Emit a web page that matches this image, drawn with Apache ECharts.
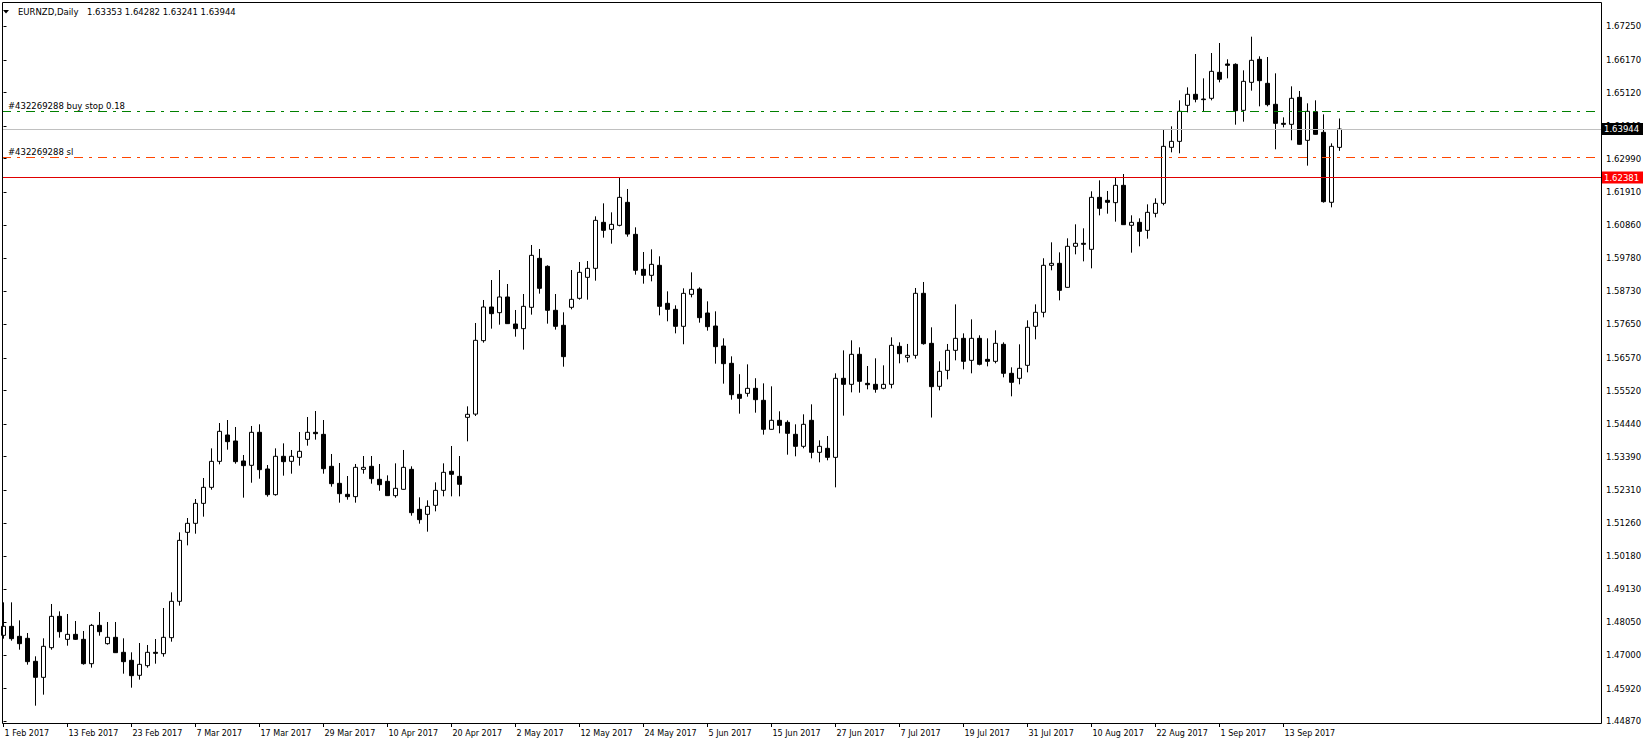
<!DOCTYPE html>
<html><head><meta charset="utf-8">
<script src="https://cdn.jsdelivr.net/npm/echarts@6/dist/echarts.min.js"></script>
<style>html,body{margin:0;padding:0;background:#fff}#c{width:1643px;height:743px}</style>
</head><body><div id="c"></div>
<script>
// Trading days (weekdays) from 1 Feb 2017
const monthDays = [
 ['Feb',[1,2,3,6,7,8,9,10,13,14,15,16,17,20,21,22,23,24,27,28]],
 ['Mar',[1,2,3,6,7,8,9,10,13,14,15,16,17,20,21,22,23,24,27,28,29,30,31]],
 ['Apr',[3,4,5,6,7,10,11,12,13,14,17,18,19,20,21,24,25,26,27,28]],
 ['May',[1,2,3,4,5,8,9,10,11,12,15,16,17,18,19,22,23,24,25,26,29,30,31]],
 ['Jun',[1,2,5,6,7,8,9,12,13,14,15,16,19,20,21,22,23,26,27,28,29,30]],
 ['Jul',[3,4,5,6,7,10,11,12,13,14,17,18,19,20,21,24,25,26,27,28,31]],
 ['Aug',[1,2,3,4,7,8,9,10,11,14,15,16,17,18,21,22,23,24,25,28,29,30,31]],
 ['Sep',[1,4,5,6,7,8,11,12,13,14,15,18,19,20,21,22]]
];
const categories = [];
monthDays.forEach(([m, days]) => days.forEach(d => categories.push(d + ' ' + m + ' 2017')));

const open = [
1.47633,1.47923,1.47601,1.47537,1.46796,1.46280,1.47236,1.48245,1.47504,1.47665,
1.47504,1.46720,1.47955,1.47365,1.47569,1.47086,1.46828,1.46345,1.46656,1.47086,
1.47043,1.47558,1.48729,1.50951,1.51241,1.51885,1.52401,1.53238,1.54087,1.53894,
1.53250,1.53110,1.54173,1.52992,1.52165,1.53400,1.53239,1.53368,1.53947,1.54173,
1.54108,1.53078,1.52530,1.52176,1.52101,1.52981,1.53078,1.52659,1.52594,1.52133,
1.52337,1.52981,1.51692,1.51531,1.51821,1.52304,1.52917,1.52755,1.54656,1.54760,
1.57126,1.58210,1.58028,1.58533,1.57663,1.57513,1.58200,1.59778,1.59521,1.58104,
1.57620,1.58200,1.58490,1.59166,1.59456,1.60938,1.60712,1.60841,1.61582,1.60551,
1.59424,1.59231,1.59553,1.58329,1.58135,1.57588,1.58619,1.58790,1.58017,1.57598,
1.56954,1.56396,1.55397,1.55429,1.55590,1.55204,1.54270,1.54560,1.54495,1.54109,
1.53722,1.54560,1.53529,1.53658,1.53367,1.55913,1.55719,1.56686,1.55751,1.55719,
1.55590,1.55719,1.56943,1.56589,1.56653,1.58651,1.57040,1.55655,1.56170,1.56815,
1.57201,1.56492,1.57201,1.56524,1.56460,1.57008,1.56074,1.55913,1.56331,1.57588,
1.58039,1.59553,1.59617,1.58844,1.60165,1.60262,1.60068,1.61743,1.61647,1.61572,
1.62130,1.60842,1.60938,1.60680,1.61228,1.61550,1.63354,1.63547,1.64707,1.65062,
1.64911,1.64933,1.65770,1.66039,1.66028,1.64546,1.65448,1.66189,1.65416,1.64740,
1.64127,1.64095,1.64965,1.63580,1.64503,1.63837,1.61583,1.63353];
const high = [
1.48696,1.48696,1.48116,1.47708,1.46957,1.47537,1.48643,1.48406,1.48320,1.48095,
1.47773,1.48000,1.48385,1.48063,1.48063,1.47537,1.47086,1.47386,1.47322,1.47515,
1.48514,1.49018,1.50951,1.51413,1.52025,1.52702,1.53657,1.54473,1.54570,1.54345,
1.53443,1.54377,1.54431,1.53120,1.53657,1.53818,1.53604,1.54184,1.54667,1.54860,
1.54570,1.53475,1.53185,1.52766,1.53153,1.53410,1.53410,1.53153,1.52787,1.53174,
1.53604,1.53078,1.52079,1.51982,1.52562,1.53174,1.53733,1.53410,1.55010,1.57695,
1.58436,1.59080,1.59402,1.58951,1.58114,1.58629,1.60208,1.60079,1.59553,1.58629,
1.58039,1.59402,1.59660,1.59692,1.61131,1.61550,1.61260,1.62381,1.62012,1.60777,
1.59982,1.60068,1.59843,1.58715,1.58264,1.58812,1.59327,1.58844,1.58393,1.58071,
1.57201,1.56621,1.56045,1.56363,1.55916,1.55751,1.55655,1.54850,1.54560,1.54431,
1.54753,1.55075,1.53915,1.54055,1.56074,1.56814,1.57137,1.56911,1.56310,1.56557,
1.56331,1.57233,1.57072,1.57020,1.58823,1.59016,1.57556,1.56460,1.57019,1.58296,
1.57362,1.57813,1.57298,1.57201,1.57459,1.57072,1.56267,1.57008,1.57781,1.58296,
1.59780,1.60294,1.59971,1.60423,1.60874,1.60745,1.61937,1.62291,1.61948,1.62366,
1.62495,1.61164,1.61067,1.61518,1.61711,1.63934,1.64031,1.64868,1.65287,1.66361,
1.65577,1.66393,1.66715,1.66190,1.66060,1.65835,1.66919,1.66286,1.66264,1.65738,
1.64320,1.65319,1.65169,1.64772,1.64868,1.64417,1.63483,1.64282];
const low = [
1.47526,1.47461,1.47171,1.46688,1.45367,1.45722,1.47171,1.47558,1.47300,1.47483,
1.46688,1.46592,1.47622,1.47333,1.47064,1.46398,1.45947,1.46205,1.46592,1.46720,
1.46946,1.47429,1.48589,1.50532,1.50908,1.51456,1.52326,1.53142,1.53614,1.53163,
1.52068,1.52550,1.52680,1.52101,1.52133,1.52777,1.52841,1.53099,1.53743,1.53937,
1.52841,1.52422,1.51907,1.52004,1.51907,1.52841,1.52519,1.52290,1.52122,1.52068,
1.52326,1.51488,1.51231,1.50973,1.51628,1.52111,1.52111,1.52111,1.53883,1.54700,
1.57062,1.57513,1.57641,1.57663,1.57255,1.56836,1.57964,1.58640,1.57674,1.57481,
1.56288,1.58135,1.58447,1.58447,1.59059,1.60444,1.60251,1.60809,1.60476,1.59252,
1.58962,1.59037,1.57942,1.57749,1.57362,1.57010,1.58522,1.57706,1.57448,1.56385,
1.55741,1.55225,1.54774,1.55322,1.54806,1.54098,1.54259,1.54141,1.53453,1.53400,
1.53658,1.53335,1.53207,1.53271,1.52401,1.54711,1.55461,1.55450,1.55558,1.55450,
1.55558,1.55590,1.56396,1.56428,1.56546,1.56997,1.54650,1.55526,1.55881,1.56492,
1.56203,1.56074,1.56331,1.56299,1.56396,1.55945,1.55333,1.55719,1.56106,1.57169,
1.57878,1.59392,1.58425,1.58833,1.59907,1.59681,1.59456,1.61163,1.61217,1.60960,
1.60852,1.59961,1.60165,1.60412,1.61099,1.61486,1.63193,1.63161,1.64482,1.64804,
1.64514,1.64868,1.65448,1.65577,1.64084,1.64181,1.65180,1.64675,1.64675,1.63290,
1.63998,1.63580,1.63440,1.62764,1.63762,1.61572,1.61421,1.63241];
const close = [
1.47923,1.47526,1.47365,1.46785,1.46280,1.47279,1.48245,1.47751,1.47665,1.47504,
1.46720,1.47955,1.47751,1.47569,1.47075,1.46785,1.46334,1.46699,1.47086,1.47053,
1.47569,1.48729,1.50693,1.51241,1.51885,1.52401,1.53238,1.54205,1.53872,1.53228,
1.53100,1.54173,1.52970,1.52165,1.53400,1.53228,1.53400,1.53561,1.54173,1.54130,
1.53002,1.52519,1.52197,1.52101,1.53045,1.53045,1.52680,1.52487,1.52133,1.52369,
1.53045,1.51585,1.51360,1.51789,1.52304,1.52884,1.52820,1.52498,1.54753,1.57137,
1.58210,1.57996,1.58533,1.57674,1.57513,1.58232,1.59875,1.58812,1.58104,1.57588,
1.56611,1.58458,1.59327,1.59456,1.61002,1.60680,1.60873,1.61743,1.60560,1.59392,
1.59231,1.59585,1.58232,1.58135,1.57588,1.58650,1.58780,1.57867,1.57577,1.56933,
1.56385,1.55386,1.55268,1.55590,1.55225,1.54270,1.54560,1.54398,1.54141,1.53722,
1.54431,1.53529,1.53722,1.53367,1.55913,1.55719,1.56686,1.55816,1.55708,1.55558,
1.55719,1.56976,1.56707,1.56653,1.58651,1.57029,1.55644,1.56138,1.56815,1.57201,
1.56460,1.57201,1.56364,1.56460,1.57040,1.56074,1.55784,1.56235,1.57556,1.58039,
1.59553,1.59617,1.58747,1.60165,1.60262,1.60230,1.61743,1.61389,1.61583,1.62130,
1.60863,1.60938,1.60648,1.61260,1.61550,1.63386,1.63547,1.64514,1.65062,1.64901,
1.64890,1.65802,1.65545,1.65996,1.64535,1.65480,1.66157,1.65502,1.64729,1.64127,
1.64095,1.64933,1.63451,1.64514,1.63773,1.61604,1.63386,1.63944];

const priceTicks = [1.44870,1.45920,1.47000,1.48050,1.49130,1.50180,1.51260,1.52310,1.53390,1.54440,
  1.55520,1.56570,1.57650,1.58730,1.59780,1.60860,1.61910,1.62990,1.64040,1.65120,1.66170,1.67250];
const dateTickIdx = [0,8,16,24,32,40,48,56,64,72,80,88,96,104,112,120,128,136,144,152,160];

const levels = { buyStop: 1.64508, sl: 1.63027, bid: 1.63944, level: 1.62381 };
const headerSymbol = 'EURNZD,Daily';
const headerValues = '1.63353 1.64282 1.63241 1.63944';

const FONT = 'DejaVu Sans';
const FS = 8.5;

const candleData = open.map((o, i) => [i, o, close[i], low[i], high[i]]);

const chart = echarts.init(document.getElementById('c'), null, { renderer: 'svg' });
chart.setOption({
  animation: false,
  backgroundColor: '#ffffff',
  grid: { left: 2, right: 42, top: 2, bottom: 20, containLabel: false, outerBoundsMode: 'none' },
  xAxis: {
    type: 'value', min: -0.1875, max: 199.6875,
    axisLine: { show: false },
    splitLine: { show: false },
    axisTick: { show: true, customValues: dateTickIdx, length: 4, lineStyle: { color: '#000', width: 1 } },
    axisLabel: {
      show: true, customValues: dateTickIdx, align: 'left', margin: 6, padding: [0, 0, 0, 1],
      color: '#000', fontFamily: FONT, fontSize: 8,
      formatter: v => categories[Math.round(v)] || ''
    }
  },
  yAxis: {
    type: 'value', position: 'right', min: 1.44809, max: 1.68036, scale: true,
    axisLine: { show: false },
    splitLine: { show: false },
    axisTick: { show: true, customValues: priceTicks, length: 3, lineStyle: { color: '#000', width: 1 } },
    axisLabel: {
      show: true, customValues: priceTicks, margin: 5, color: '#000', fontFamily: FONT, fontSize: FS,
      formatter: v => v.toFixed(5)
    }
  },
  series: [{
    type: 'candlestick',
    data: candleData,
    encode: { x: 0, y: [1, 2, 3, 4] },
    barWidth: 4,
    itemStyle: { color: '#ffffff', color0: '#000000', borderColor: '#000000', borderColor0: '#000000', borderWidth: 1 },
    markLine: {
      silent: true, symbol: ['none', 'none'], animation: false, precision: 5,
      data: [
        { yAxis: levels.bid, lineStyle: { color: '#c0c0c0', type: 'solid', width: 1 },
          label: { show: true, position: 'end', distance: 1, formatter: levels.bid.toFixed(5),
                   color: '#fff', backgroundColor: '#000', padding: [2, 8, 1, 2], fontFamily: FONT, fontSize: FS } },
        { yAxis: levels.level, lineStyle: { color: '#e00000', type: 'solid', width: 1 },
          label: { show: true, position: 'end', distance: 1, formatter: levels.level.toFixed(5),
                   color: '#fff', backgroundColor: '#ff0000', padding: [2, 8, 1, 2], fontFamily: FONT, fontSize: FS } },
        { yAxis: levels.buyStop, lineStyle: { color: '#008000', type: [9, 6, 3, 6], width: 1 },
          label: { show: true, position: 'insideStartTop', distance: [6, 1], formatter: '#432269288 buy stop 0.18',
                   color: '#000', fontFamily: FONT, fontSize: FS } },
        { yAxis: levels.sl, lineStyle: { color: '#ff4500', type: [9, 6, 3, 6], width: 1 },
          label: { show: true, position: 'insideStartTop', distance: [6, 1], formatter: '#432269288 sl',
                   color: '#000', fontFamily: FONT, fontSize: FS } }
      ]
    }
  }],
  graphic: [
    { type: 'rect', z: 100, silent: true, shape: { x: 2.5, y: 2.5, width: 1599, height: 721 },
      style: { fill: 'none', stroke: '#000', lineWidth: 1 } },
    { type: 'polygon', z: 101, silent: true, shape: { points: [[3, 10], [9, 10], [6, 13.5]] }, style: { fill: '#000' } },
    { type: 'text', z: 101, silent: true, style: { text: headerSymbol, x: 18, y: 12, fill: '#000', fontFamily: FONT, fontSize: FS, verticalAlign: 'middle' } },
    { type: 'text', z: 101, silent: true, style: { text: headerValues, x: 87, y: 12, fill: '#000', fontFamily: FONT, fontSize: FS, verticalAlign: 'middle' } }
  ]
});
</script>
</body></html>
